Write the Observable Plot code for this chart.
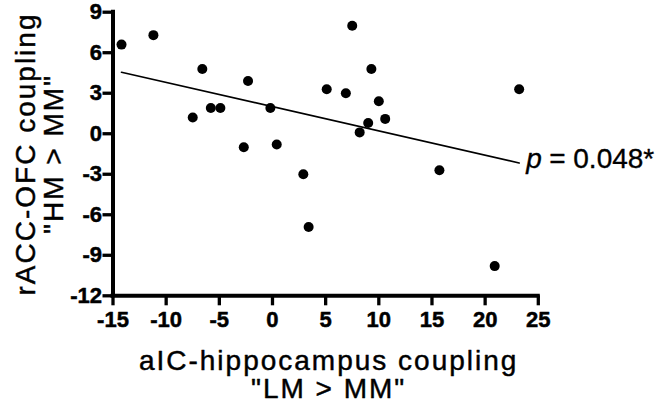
<!DOCTYPE html>
<html><head><meta charset="utf-8">
<script src="https://cdn.jsdelivr.net/npm/d3@7"></script>
<script src="https://cdn.jsdelivr.net/npm/@observablehq/plot@0.6"></script>
<style>body{margin:0;background:#fff}</style>
</head><body><div id="chart"></div>
<script>
const xValues = [-14.2, -11.2, -6.6, -7.5, -5.8, -4.9, -2.3, -2.7, -0.2, 0.4, 2.9, 3.4, 5.1, 6.9, 7.5, 9.3, 10.0, 10.6, 9.0, 8.2, 15.7, 20.9, 23.2];
const yValues = [6.6, 7.3, 4.8, 1.2, 1.9, 1.9, 3.9, -1.0, 1.9, -0.8, -3.0, -6.9, 3.3, 3.0, 8.0, 4.8, 2.4, 1.1, 0.8, 0.1, -2.7, -9.8, 3.3];
const xTicks = [-15, -10, -5, 0, 5, 10, 15, 20, 25];
const yTicks = [-12, -9, -6, -3, 0, 3, 6, 9];
const xTitle = 'aIC-hippocampus coupling\n"LM > MM"';
const yTitle = 'rACC-OFC coupling\n"HM > MM"';
const pSymbol = "p";
const pValueText = "= 0.048*";

const points = xValues.map((x, i) => ({x, y: yValues[i]}));
const mx = d3.mean(xValues), my = d3.mean(yValues);
const slope = d3.sum(points, d => (d.x - mx) * (d.y - my)) / d3.sum(points, d => (d.x - mx) ** 2);
const xEnd = d3.max(xValues);
const labelAnchor = [{x: xEnd, y: my + slope * (xEnd - mx)}];
const xMin = d3.min(xTicks), xMax = d3.max(xTicks), yMin = d3.min(yTicks), yMax = d3.max(yTicks);

const tickText = {fontSize: 22, fontWeight: "bold", fill: "black", stroke: "black", strokeWidth: 0.5};
const titleText = {fontSize: 28, lineHeight: 1, fill: "black", stroke: "black", strokeWidth: 0.45};
const pText = {x: "x", y: "y", textAnchor: "start", lineAnchor: "middle", dy: -4, fontSize: 28, fill: "black", stroke: "black", strokeWidth: 0.35};

const chart = Plot.plot({
  width: 656,
  height: 408,
  marginLeft: 112.5,
  marginRight: 118.2,
  marginTop: 11.7,
  marginBottom: 112.7,
  style: {fontFamily: "'Liberation Sans', Arial, sans-serif", background: "white", color: "black"},
  x: {domain: [xMin, xMax]},
  y: {domain: [yMin, yMax]},
  marks: [
    Plot.axisX({ticks: xTicks, tickSize: 10, strokeWidth: 3.3, tickFormat: () => "", label: null}),
    Plot.axisY({ticks: yTicks, tickSize: 10, strokeWidth: 3.3, tickFormat: () => "", label: null}),
    Plot.text(xTicks, {x: d => d, text: d => String(d), frameAnchor: "bottom", lineAnchor: "top", textAnchor: "middle", dy: 16, ...tickText}),
    Plot.text(yTicks, {y: d => d, text: d => String(d), frameAnchor: "left", lineAnchor: "middle", textAnchor: "end", dx: -11, ...tickText}),
    Plot.ruleX([xMin], {y1: yMin, y2: yMax, strokeWidth: 4, strokeLinecap: "square"}),
    Plot.ruleY([yMin], {x1: xMin, x2: xMax, strokeWidth: 4, strokeLinecap: "square"}),
    Plot.linearRegressionY(points, {x: "x", y: "y", ci: 0, stroke: "black", strokeWidth: 1.7}),
    Plot.dot(points, {x: "x", y: "y", r: 5, fill: "black"}),
    Plot.text(labelAnchor, {...pText, text: () => pSymbol, fontStyle: "italic", dx: 7}),
    Plot.text(labelAnchor, {...pText, text: () => pValueText, dx: 30}),
    Plot.text([xTitle], {text: d => d, frameAnchor: "bottom", textAnchor: "middle", lineAnchor: "top", dy: 54.3, dx: 3, ...titleText}),
    Plot.text([yTitle], {text: d => d, frameAnchor: "left", textAnchor: "middle", rotate: -90, lineAnchor: "top", dx: -97.9, ...titleText})
  ]
});
const textGroups = d3.select(chart).selectAll('g[aria-label="text"]').nodes();
d3.select(textGroups[textGroups.length - 2]).style("letter-spacing", "2px");
d3.select(textGroups[textGroups.length - 1]).style("letter-spacing", "2px");
document.getElementById("chart").appendChild(chart);
</script>
</body></html>
